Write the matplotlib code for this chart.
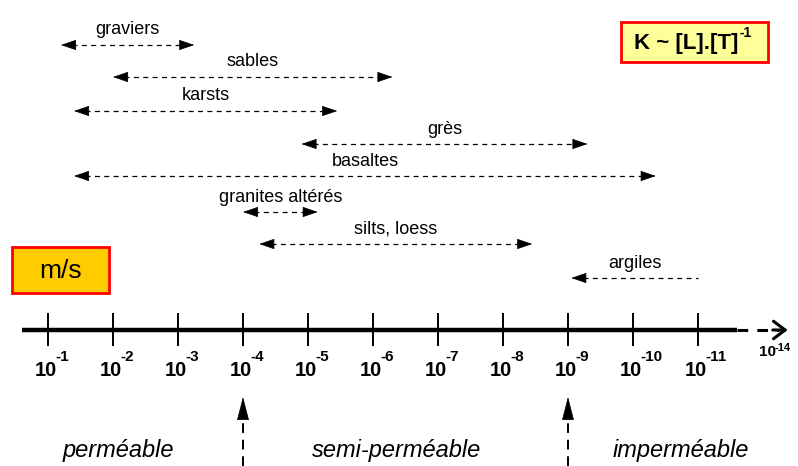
import matplotlib
matplotlib.use('Agg')
import matplotlib.pyplot as plt
import matplotlib.transforms as mtransforms
from matplotlib.patches import Rectangle

plt.rcParams['font.family'] = ['Liberation Sans', 'DejaVu Sans']

# ---------------------------------------------------------------------------
# Données : perméabilité K (m/s), exprimée par l'exposant n de 10^-n
# ---------------------------------------------------------------------------
formations = ['graviers', 'sables', 'karsts', 'grès', 'basaltes',
              'granites altérés', 'silts, loess', 'argiles']
k_max = [1.2, 2.0, 1.4, 4.9, 1.4, 4.0, 4.25, 9.05]     # borne la plus perméable
k_min = [3.25, 6.3, 5.45, 9.3, 10.35, 5.15, 8.45, 11.0]  # borne la moins perméable
fleche_max = [True, True, True, True, True, True, True, True]
fleche_min = [True, True, True, True, True, True, True, False]

tick_exp = list(range(1, 12))      # 10^-1 ... 10^-11
exp_fin = 14                       # 10^-14 au bout de l'axe
seuils = [4, 9]                    # limites des classes
classes = ['perméable', 'semi-perméable', 'imperméable']

# ---------------------------------------------------------------------------
# Figure : x = exposant, y = position verticale en pixels (depuis le haut)
# ---------------------------------------------------------------------------
W, H = 798, 466
fig = plt.figure(figsize=(W / 100, H / 100), dpi=100)
ax = fig.add_axes([0, 0, 1, 1])
ax.set_xlim(1 - 48 / 65, 1 + 750 / 65)
ax.set_ylim(H, 0)
ax.axis('off')

# transformation "pixels depuis le coin haut gauche" pour la mise en page
px = mtransforms.Affine2D().scale(1 / W, -1 / H).translate(0, 1) + fig.transFigure

rangs = [45, 77, 111, 144, 176, 212, 244, 278]
d_tete = 0.22


def tete(x_tip, x_from, y):
    ax.annotate('', xy=(x_tip, y), xytext=(x_from, y),
                arrowprops=dict(arrowstyle='-|>,head_length=0.7,head_width=0.24',
                                color='black', lw=0.5, shrinkA=0, shrinkB=0,
                                mutation_scale=14))


# flèches horizontales des formations
for nom, a, b, fa, fb, y in zip(formations, k_max, k_min, fleche_max, fleche_min, rangs):
    ga = a + d_tete * 0.8 if fa else a
    gb = b - d_tete * 0.8 if fb else b
    ax.plot([ga, gb], [y, y], color='black', lw=0.9, dashes=(4, 3.5))
    if fa:
        tete(a, a + d_tete, y)
    if fb:
        tete(b, b - d_tete, y)
    ax.text((a + b) / 2, y - 15, nom, ha='center', va='center', fontsize=13)

# axe principal
ax.plot([0.6, 11.6], [330, 330], color='black', lw=3.2, solid_capstyle='butt')
ax.vlines(tick_exp, 313, 346, color='black', lw=1.4)
ax.plot([11.6, 12.25], [330, 330], color='black', lw=2.2, dashes=(3.5, 3))
ax.annotate('', xy=(12.38, 330), xytext=(12.15, 330),
            arrowprops=dict(arrowstyle='->,head_length=0.6,head_width=0.45',
                            color='black', lw=2.2, shrinkA=0, shrinkB=0,
                            mutation_scale=14))

# étiquettes des graduations
for n in tick_exp:
    ax.text(n + 9 / 65, 370, '10', ha='right', va='center',
            fontsize=14.5, fontweight='bold')
    ax.text(n + 7 / 65, 357, '-%d' % n, ha='left', va='center',
            fontsize=11, fontweight='bold')
ax.text(776, 352, '10', transform=px, ha='right', va='center',
        fontsize=11, fontweight='bold')
ax.text(775, 348, '-%d' % exp_fin, transform=px, ha='left', va='center',
        fontsize=8, fontweight='bold')

# flèches verticales des seuils
for s in seuils:
    ax.plot([s, s], [H, 410], color='black', lw=1.4, dashes=(5, 3.5))
    ax.annotate('', xy=(s, 397), xytext=(s, 414),
                arrowprops=dict(arrowstyle='-|>,head_length=0.85,head_width=0.22',
                                color='black', lw=0.5, shrinkA=0, shrinkB=0,
                                mutation_scale=18))

# classes de perméabilité
for nom, xc in zip(classes, [118, 397, 681]):
    ax.text(xc, 451, nom, transform=px, ha='center', va='center',
            fontsize=17, style='italic')

# cadres
ax.add_patch(Rectangle((621, 22), 147, 40, transform=px, facecolor='#FFFF99',
                       edgecolor='#FF0000', lw=2, zorder=3))
ax.text(686, 43, 'K ~ [L].[T]', transform=px, ha='center', va='center',
        fontsize=16, fontweight='bold', zorder=4)
ax.text(740, 33, '-1', transform=px, ha='left', va='center',
        fontsize=10, fontweight='bold', zorder=4)

ax.add_patch(Rectangle((12, 247), 97, 46, transform=px, facecolor='#FFCC00',
                       edgecolor='#FF0000', lw=2, zorder=3))
ax.text(60.5, 271, 'm/s', transform=px, ha='center', va='center',
        fontsize=19, zorder=4)

fig.savefig('out.png', dpi=100)
